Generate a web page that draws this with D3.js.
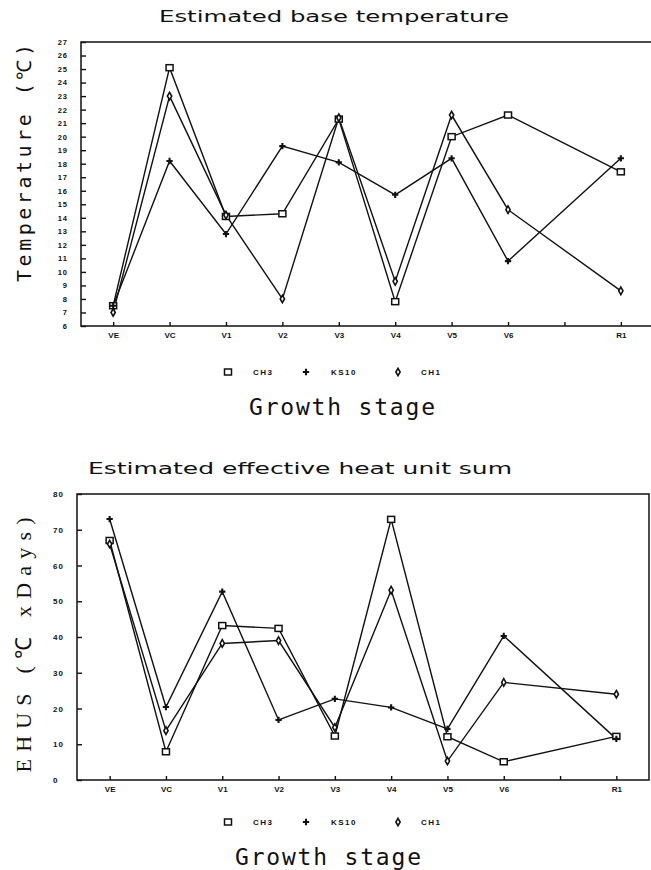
<!DOCTYPE html>
<html>
<head>
<meta charset="utf-8">
<script src="https://cdn.jsdelivr.net/npm/d3@7/dist/d3.min.js"></script>
<style>
  html, body { margin: 0; padding: 0; background: #fff; }
  svg { display: block; }
</style>
</head>
<body>
<svg id="chart" width="651" height="870"></svg>
<script>
// ---------------- data ----------------
const tickCategories = ["VE", "VC", "V1", "V2", "V3", "V4", "V5", "V6", " ", "R1"];
const stages = ["VE", "VC", "V1", "V2", "V3", "V4", "V5", "V6", "R1"];
const seriesNames = ["CH3", "KS10", "CH1"];

// Estimated base temperature (°C)
const tempCH3  = [7.5, 25.1, 14.1, 14.3, 21.3, 7.8, 20.0, 21.6, 17.4];
const tempKS10 = [7.5, 18.2, 12.8, 19.3, 18.1, 15.7, 18.4, 10.8, 18.4];
const tempCH1  = [7.0, 23.0, 14.2, 8.0, 21.4, 9.3, 21.6, 14.6, 8.6];
const tempTicks = d3.range(6, 28, 1);

// Estimated effective heat unit sum (°C x Days)
const ehusCH3  = [67, 7.9, 43.2, 42.4, 12.3, 72.9, 12.1, 5.1, 12.2];
const ehusKS10 = [73, 20.4, 52.7, 16.8, 22.7, 20.3, 14.3, 40.3, 11.5];
const ehusCH1  = [66, 13.8, 38.2, 39.0, 14.7, 53.1, 5.3, 27.3, 24.0];
const ehusTicks = d3.range(0, 90, 10);

// ---------------- drawing ----------------
const svg = d3.select("#chart");
const ink = "#111";
const titleFont = "'DejaVu Sans', sans-serif";
const monoFont = "'DejaVu Sans Mono', monospace";
const smallFont = "'Liberation Sans', Arial, sans-serif";

function marker(g, type, x, y) {
  if (type === "CH3") {
    g.append("rect").attr("x", x - 3.5).attr("y", y - 3).attr("width", 7).attr("height", 6)
      .attr("fill", "#fff").attr("stroke", ink).attr("stroke-width", 1.5);
  } else if (type === "KS10") {
    g.append("path").attr("transform", `translate(${x},${y})`)
      .attr("d", d3.symbol(d3.symbolCross, 22)())
      .attr("fill", ink).attr("stroke", "none");
  } else {
    g.append("path").attr("transform", `translate(${x},${y})`)
      .attr("d", d3.symbol(d3.symbolDiamond, 16)())
      .attr("fill", "#fff").attr("stroke", ink).attr("stroke-width", 1.6);
  }
}

function drawPanel(cfg) {
  const { left, top, right, bottom, yDomain, yTicks, series, pad } = cfg;
  const g = svg.append("g");
  const x = d3.scalePoint().domain(tickCategories).range([left, right]).padding(pad);
  const y = d3.scaleLinear().domain(yDomain).range([bottom, top]);

  // frame
  g.append("rect").attr("x", left).attr("y", top)
    .attr("width", right - left).attr("height", bottom - top)
    .attr("fill", "none").attr("stroke", ink).attr("stroke-width", 1.5);

  // y axis
  const ya = g.append("g").attr("transform", `translate(${left},0)`)
    .call(d3.axisLeft(y).tickValues(yTicks).tickSize(-5).tickPadding(cfg.yPad).tickFormat(d3.format("d")));
  ya.select(".domain").remove();
  ya.selectAll("line").attr("stroke", ink).attr("stroke-width", 1.4);
  ya.selectAll("text").attr("font-family", smallFont).attr("font-weight", "bold")
    .attr("font-size", cfg.yFont).attr("fill", ink).attr("text-anchor", cfg.yAnchor)
    .attr("letter-spacing", "1px");

  // x axis
  const xa = g.append("g").attr("transform", `translate(0,${bottom})`)
    .call(d3.axisBottom(x).tickSize(-4).tickPadding(6));
  xa.select(".domain").remove();
  xa.selectAll("line").attr("stroke", ink).attr("stroke-width", 1.4);
  xa.selectAll("text").attr("font-family", smallFont).attr("font-weight", "bold")
    .attr("font-size", 8).attr("fill", ink);

  // lines + markers
  const line = d3.line().x((d, i) => x(stages[i])).y(d => y(d));
  series.forEach(s => {
    g.append("path").datum(s.values).attr("d", line)
      .attr("fill", "none").attr("stroke", ink).attr("stroke-width", 1.4)
      .attr("stroke-linejoin", "miter");
  });
  series.forEach(s => {
    const mg = g.append("g");
    s.values.forEach((v, i) => marker(mg, s.name, x(stages[i]), y(v)));
  });
  return { x, y };
}

function drawLegend(cy) {
  const g = svg.append("g");
  const items = [
    { name: "CH3", mx: 228, tx: 253 },
    { name: "KS10", mx: 306, tx: 331 },
    { name: "CH1", mx: 398, tx: 421 }
  ];
  items.forEach(it => {
    marker(g, it.name, it.mx, cy);
    g.append("text").attr("x", it.tx).attr("y", cy + 3)
      .attr("font-family", smallFont).attr("font-weight", "bold").attr("font-size", 8)
      .attr("letter-spacing", "1.5px").attr("fill", ink).text(it.name);
  });
}

// ---- Top panel ----
svg.append("text").attr("x", 334).attr("y", 22).attr("text-anchor", "middle")
  .attr("font-family", titleFont).attr("font-size", 16).attr("fill", ink)
  .attr("textLength", 350).attr("lengthAdjust", "spacingAndGlyphs")
  .text("Estimated base temperature");

drawPanel({
  left: 81, top: 42, right: 653, bottom: 326, pad: 0.57,
  yDomain: [6, 27], yTicks: tempTicks, yPad: 13, yFont: 7.5, yAnchor: "end",
  series: [
    { name: "CH3", values: tempCH3 },
    { name: "KS10", values: tempKS10 },
    { name: "CH1", values: tempCH1 }
  ]
});

svg.append("text").attr("transform", "translate(31,163) rotate(-90)")
  .attr("text-anchor", "middle").attr("font-family", monoFont).attr("font-size", 20)
  .attr("textLength", 238).attr("lengthAdjust", "spacing").attr("fill", ink)
  .text("Temperature (℃)");

drawLegend(372);

svg.append("text").attr("x", 342).attr("y", 415).attr("text-anchor", "middle")
  .attr("font-family", monoFont).attr("font-size", 23).attr("fill", ink)
  .attr("textLength", 186).attr("lengthAdjust", "spacing")
  .text("Growth stage");

// ---- Bottom panel ----
svg.append("text").attr("x", 300).attr("y", 474).attr("text-anchor", "middle")
  .attr("font-family", titleFont).attr("font-size", 16).attr("fill", ink)
  .attr("textLength", 424).attr("lengthAdjust", "spacingAndGlyphs")
  .text("Estimated effective heat unit sum");

drawPanel({
  left: 77, top: 494, right: 649, bottom: 780, pad: 0.58,
  yDomain: [0, 80], yTicks: ehusTicks, yPad: 24, yFont: 8, yAnchor: "start",
  series: [
    { name: "CH3", values: ehusCH3 },
    { name: "KS10", values: ehusKS10 },
    { name: "CH1", values: ehusCH1 }
  ]
});

svg.append("text").attr("transform", "translate(31,645) rotate(-90)")
  .attr("text-anchor", "middle").attr("font-family", "'Liberation Serif', serif").attr("font-size", 22)
  .attr("textLength", 255).attr("lengthAdjust", "spacing").attr("fill", ink)
  .text("EHUS (℃ xDays)");

drawLegend(822);

svg.append("text").attr("x", 328).attr("y", 865).attr("text-anchor", "middle")
  .attr("font-family", monoFont).attr("font-size", 23).attr("fill", ink)
  .attr("textLength", 186).attr("lengthAdjust", "spacing")
  .text("Growth stage");
</script>
</body>
</html>
